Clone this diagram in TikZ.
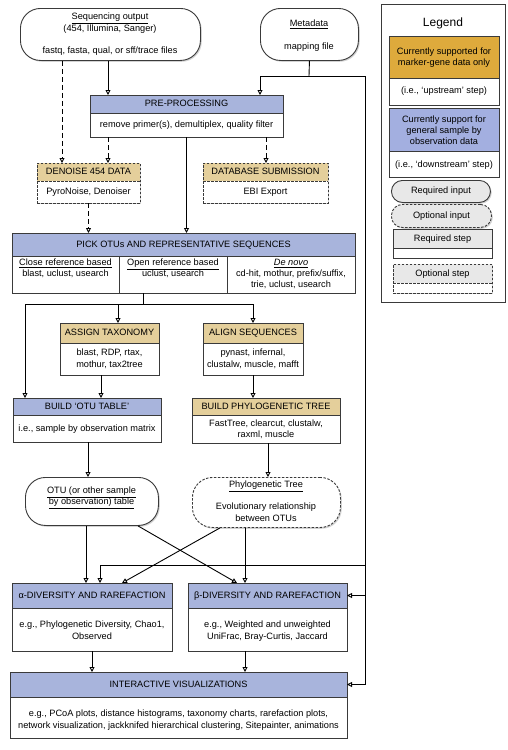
\documentclass[tikz,border=0pt]{standalone}
\usepackage{fontspec}
\setmainfont{Liberation Sans}
\usetikzlibrary{arrows.meta,shadows}
\definecolor{bord}{HTML}{3A3A3A}
\definecolor{tanH}{HTML}{E4CF9B}
\definecolor{blueH}{HTML}{A8B4DC}
\definecolor{tanL}{HTML}{DEAA3C}
\definecolor{blueL}{HTML}{A3AFE0}
\definecolor{grayL}{HTML}{E8E8E8}
\newcommand{\tf}{\fontsize{9.2}{11}\selectfont}
\tikzset{
  frame/.style={draw=bord, line width=0.9pt, fill=white, inner sep=0pt, outer sep=0pt,
    drop shadow={shadow xshift=1.3pt, shadow yshift=-1.3pt, opacity=0.35}},
  frameline/.style={draw=bord, line width=0.9pt, inner sep=0pt, outer sep=0pt},
  sepline/.style={draw=bord, line width=0.9pt},
  band/.style={inner sep=0pt, outer sep=0pt, font=\tf, text height=6.8pt, text depth=1.2pt},
  txt/.style={inner sep=0pt, font=\tf, text height=6.8pt, text depth=1.2pt},
  dbox/.style={dash pattern=on 2.5pt off 1.5pt},
  inp/.style={draw=bord, line width=0.9pt, fill=white, rounded corners=20pt, inner sep=0pt,
    anchor=north west, drop shadow={shadow xshift=1.3pt, shadow yshift=-1.3pt, opacity=0.35}},
  arr/.style={line width=0.9pt, -{Triangle[length=5pt,width=5pt,fill=white]}},
  darr/.style={arr, dash pattern=on 5pt off 3pt},
  conn/.style={line width=0.9pt},
}
% #1 name, #2 extra style, #3 x1, #4 y1, #5 x2, #6 y2, #7 y header, #8 fill, #9 header text
\newcommand{\mkbox}[9]{%
  \node[frame, #2, anchor=north west, minimum width={(#5-#3)*1pt}, minimum height={(#6-#4)*1pt}] (#1) at (#3,#4) {};
  \node[band, fill=#8, anchor=north west, minimum width={(#5-#3)*1pt}, minimum height={(#7-#4)*1pt}] (#1h) at (#3,#4) {#9};
  \draw[sepline, #2] (#1h.south west) -- (#1h.south east);
  \node[frameline, #2, anchor=north west, minimum width={(#5-#3)*1pt}, minimum height={(#6-#4)*1pt}] (#1f) at (#3,#4) {};
}
\begin{document}
\begin{tikzpicture}[x=1pt, y=-1pt]
\useasboundingbox[fill=white] (0,0) rectangle (508,750);

% ---------- guide coordinates ----------
\foreach \gx in {25,62,86,88,90,100,101,108,118,122,138,143,220,237,245,253,260,266,268}
  {\coordinate (g\gx) at (\gx,0);}
\coordinate (bus) at (365,0);
\coordinate (mj) at (309,76);
\coordinate (abus) at (365,565);
\coordinate (pj) at (143,304);
\coordinate (pl) at (25,304);
\coordinate (pr) at (253,304);

% ---------- inputs ----------
\node[inp, minimum width=180pt, minimum height=52pt] (seq) at (20,8) {};
\node[txt] (seq1) at (110,17) {\underline{Sequencing output}};
\node[txt] (seq2) at (110,29) {(454, Illumina, Sanger)};
\node[txt] (seq3) at (110,51) {fastq, fasta, qual, or sff/trace files};

\node[inp, minimum width=98pt, minimum height=52pt] (meta) at (260,8) {};
\node[txt] (meta1) at (309,24) {\underline{Metadata}};
\node[txt] (meta2) at (309,47) {mapping file};

% ---------- steps ----------
\mkbox{pre}{}{90}{95}{283}{137}{113}{blueH}{PRE-PROCESSING}
\node[txt] (preb) at (186.5,125) {remove primer(s), demultiplex, quality filter};

\mkbox{den}{dbox}{37}{163}{140}{203}{181}{tanH}{DENOISE 454 DATA}
\node[txt] (denb) at (88.5,192) {PyroNoise, Denoiser};

\mkbox{db}{dbox}{203}{163}{328}{203}{181}{tanH}{DATABASE SUBMISSION}
\node[txt] (dbb) at (265.5,192) {EBI Export};

\mkbox{pick}{}{12}{233}{355}{293}{256}{blueH}{PICK OTUs AND REPRESENTATIVE SEQUENCES}
\draw[sepline] ([xshift=107pt]pickh.south west) -- ([xshift=107pt]pick.south west);
\draw[sepline] ([xshift=215pt]pickh.south west) -- ([xshift=215pt]pick.south west);
\node[txt] (pc1a) at (65.5,263) {\underline{Close reference based}};
\node[txt] (pc1b) at (65.5,274) {blast, uclust, usearch};
\node[txt] (pc2a) at (173,263) {\underline{Open reference based}};
\node[txt] (pc2b) at (173,274) {uclust, usearch};
\node[txt] (pc3a) at (291,263) {\underline{\itshape De novo}};
\node[txt] (pc3b) at (291,274) {cd-hit, mothur, prefix/suffix,};
\node[txt] (pc3c) at (291,285) {trie, uclust, usearch};

\mkbox{asg}{}{60}{323}{159}{375}{343}{tanH}{ASSIGN TAXONOMY}
\node[txt] (asg1) at (109.5,353) {blast, RDP, rtax,};
\node[txt] (asg2) at (109.5,365) {mothur, tax2tree};

\mkbox{aln}{}{203}{323}{303}{375}{343}{tanH}{ALIGN SEQUENCES}
\node[txt] (aln1) at (253,353) {pynast, infernal,};
\node[txt] (aln2) at (253,365) {clustalw, muscle, mafft};

\mkbox{otu}{}{13}{398}{161}{442}{415}{blueH}{BUILD `OTU TABLE'}
\node[txt] (otu1) at (87,429) {i.e., sample by observation matrix};

\mkbox{phy}{}{192}{398}{340}{443}{415}{tanH}{BUILD PHYLOGENETIC TREE}
\node[txt] (phy1) at (266,424) {FastTree, clearcut, clustalw,};
\node[txt] (phy2) at (266,435) {raxml, muscle};

\node[inp, minimum width=133pt, minimum height=48pt] (otab) at (25,477) {};
\node[txt] (otab1) at (91.5,491) {\underline{OTU (or other sample}};
\node[txt] (otab2) at (91.5,502) {\underline{by observation) table}};

\node[inp, dbox, minimum width=148pt, minimum height=50pt] (ptree) at (192,477) {};
\node[txt] (ptree1) at (266,485) {\underline{Phylogenetic Tree}};
\node[txt] (ptree2) at (266,507) {Evolutionary relationship};
\node[txt] (ptree3) at (266,519) {between OTUs};

\mkbox{alp}{}{12}{583}{172}{651}{608}{blueH}{α-DIVERSITY AND RAREFACTION}
\node[txt] (alp1) at (92,625) {e.g., Phylogenetic Diversity, Chao1,};
\node[txt] (alp2) at (92,637) {Observed};

\mkbox{bet}{}{188}{583}{347}{651}{608}{blueH}{β-DIVERSITY AND RAREFACTION}
\node[txt] (bet1) at (267.5,625) {e.g., Weighted and unweighted};
\node[txt] (bet2) at (267.5,637) {UniFrac, Bray-Curtis, Jaccard};

\mkbox{int}{}{10}{672}{347}{738}{697}{blueH}{INTERACTIVE VISUALIZATIONS}
\node[txt] (int1) at (178.5,714) {e.g., PCoA plots, distance histograms, taxonomy charts, rarefaction plots,};
\node[txt] (int2) at (178.5,726) {network visualization, jackknifed hierarchical clustering, Sitepainter, animations};

% ---------- connectors ----------
\draw[arr] (g108 |- seq.south) -- (g108 |- pre.north);
\draw[darr] (g62 |- seq.south) -- (g62 |- den.north);
\draw[conn] (meta.south) -- (mj);
\draw[arr] (mj) -| (g260 |- pre.north);
\draw[conn] (mj) -| (bus |- inth.east);
\draw[arr] (bus |- inth.east) -- (inth.east);
\draw[arr] (bus |- beth.east) -- (beth.east);
\draw[arr] (abus) -| (g100 |- alp.north);

\draw[darr] (g108 |- pre.south) -- (g108 |- den.north);
\draw[darr] (g266 |- pre.south) -- (g266 |- db.north);
\draw[arr] (pre.south) -- (pre.south |- pick.north);
\draw[darr] (den.south) -- (den.south |- pick.north);

\draw[conn] (g143 |- pick.south) -- (pj);
\draw[conn] (pl) -- (pr);
\draw[arr] (pl) -- (pl |- otu.north);
\draw[arr] (g118 |- pj) -- (g118 |- asg.north);
\draw[arr] (pr) -- (aln.north);

\draw[arr] (g101 |- asg.south) -- (g101 |- otu.north);
\draw[arr] (g253 |- aln.south) -- (g253 |- phy.north);
\draw[arr] (g88 |- otu.south) -- (g88 |- otab.north);
\draw[arr] (g268 |- phy.south) -- (g268 |- ptree.north);

\draw[arr] (g86 |- otab.south) -- (g86 |- alp.north);
\draw[arr] (g138 |- otab.south) -- (g237 |- bet.north);
\draw[arr] (g220 |- ptree.south) -- (g122 |- alp.north);
\draw[arr] (g245 |- ptree.south) -- (g245 |- bet.north);

\draw[arr] (alp.south) -- (alp.south |- int.north);
\draw[arr] (g245 |- bet.south) -- (g245 |- int.north);

% ---------- legend ----------
\node[frame, anchor=north west, minimum width=124pt, minimum height=298pt] (leg) at (381,4) {};
\node[txt, font=\fontsize{12}{14}\selectfont, text height=8.6pt, text depth=0pt] (legt) at (443,22) {Legend};
\mkbox{lt}{}{389}{36}{499}{105}{78}{tanL}{}
\node[txt] (lt1) at (444,52) {Currently supported for};
\node[txt] (lt2) at (444,63) {marker-gene data only};
\node[txt] (lt3) at (444,91) {(i.e., `upstream' step)};
\mkbox{lb}{}{389}{108}{499}{177}{151}{blueL}{}
\node[txt] (lb1) at (444,120) {Currently support for};
\node[txt] (lb2) at (444,131) {general sample by};
\node[txt] (lb3) at (444,142) {observation data};
\node[txt] (lb4) at (444,165) {(i.e., `downstream' step)};
\node[inp, fill=grayL, rounded corners=11pt, minimum width=99pt, minimum height=22pt, font=\tf] (rin) at (391,180) {Required input};
\node[inp, dbox, fill=grayL, rounded corners=11pt, minimum width=100pt, minimum height=23pt, font=\tf] (oin) at (391,204) {Optional input};
\mkbox{rst}{}{393}{229}{492}{258}{248}{grayL}{Required step}
\mkbox{ost}{dbox}{393}{264}{492}{293}{283}{grayL}{Optional step}
\end{tikzpicture}
\end{document}
